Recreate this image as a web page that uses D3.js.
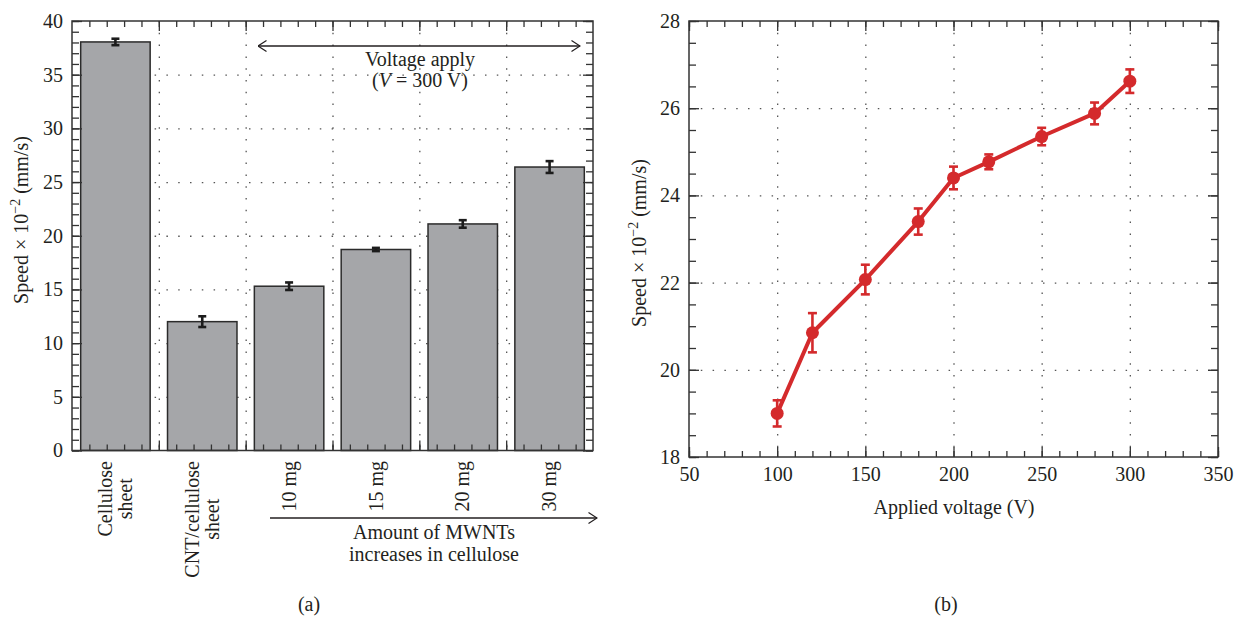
<!DOCTYPE html>
<html><head><meta charset="utf-8">
<script src="https://cdn.jsdelivr.net/npm/d3@7"></script>
<style>
body{margin:0;background:#fff;}
svg text{font-family:"Liberation Serif","Times New Roman",serif;fill:#231f20;font-size:20px;}
</style></head><body>
<svg id="chart" width="1236" height="622"></svg>
<script>
// ---------- data ----------
const barLabels = [["Cellulose","sheet"],["CNT/cellulose","sheet"],["10 mg"],["15 mg"],["20 mg"],["30 mg"]];
const barValues = [38.05, 12.0, 15.3, 18.72, 21.1, 26.4];
const barErrors = [0.3, 0.5, 0.35, 0.15, 0.35, 0.55];
const barYTicks = [0, 5, 10, 15, 20, 25, 30, 35, 40];

const voltages = [100, 120, 150, 180, 200, 220, 250, 280, 300];
const speeds = [19.0, 20.85, 22.07, 23.4, 24.4, 24.77, 25.35, 25.88, 26.62];
const speedErrors = [0.3, 0.45, 0.34, 0.3, 0.26, 0.17, 0.2, 0.25, 0.27];
const voltageTicks = [50, 100, 150, 200, 250, 300, 350];
const speedTicks = [18, 20, 22, 24, 26, 28];

// ---------- setup ----------
const svg = d3.select("#chart");
const INK = "#231f20", FRAME = "#333", GRID = "#555", RED = "#d42a2c";

svg.append("defs").append("marker")
  .attr("id", "arr").attr("viewBox", "0 0 10 12").attr("refX", 9.5).attr("refY", 6)
  .attr("markerWidth", 10).attr("markerHeight", 12).attr("markerUnits", "userSpaceOnUse")
  .attr("orient", "auto-start-reverse")
  .append("path").attr("d", "M1,0.5 L9.5,6 L1,11.5").attr("fill", "none")
  .attr("stroke", INK).attr("stroke-width", 1.2);

function styleAxis(a) {
  a.select(".domain").remove();
  a.selectAll("line").attr("stroke", FRAME).attr("stroke-width", 1.3);
  return a;
}
function grid(x, y, xg, yg) {
  const [x0, x1] = x.range(), [y1, y0] = y.range();
  const gx = svg.append("g").attr("transform", `translate(0,${y0})`)
    .call(d3.axisBottom(x).tickValues(xg).tickSize(y1 - y0).tickFormat(""));
  const gy = svg.append("g").attr("transform", `translate(${x0},0)`)
    .call(d3.axisRight(y).tickValues(yg).tickSize(x1 - x0).tickFormat(""));
  [gx, gy].forEach(g => {
    g.select(".domain").remove();
    g.selectAll("line").attr("stroke", GRID).attr("stroke-width", 1.3).attr("stroke-dasharray", "1.5,10.3");
  });
}
function frame(x, y, xMaj, xMin, yMaj, yMin) {
  const [x0, x1] = x.range(), [y1, y0] = y.range();
  const add = (gen, tr) => styleAxis(svg.append("g").attr("transform", tr).call(gen));
  add(d3.axisTop(x).tickValues(xMin).tickSize(6).tickFormat(""), `translate(0,${y1})`);
  add(d3.axisTop(x).tickValues(xMaj).tickSize(10).tickFormat(""), `translate(0,${y1})`);
  add(d3.axisBottom(x).tickValues(xMin).tickSize(6).tickFormat(""), `translate(0,${y0})`);
  add(d3.axisBottom(x).tickValues(xMaj).tickSize(10).tickFormat(""), `translate(0,${y0})`);
  add(d3.axisRight(y).tickValues(yMin).tickSize(7).tickFormat(""), `translate(${x0},0)`);
  add(d3.axisRight(y).tickValues(yMaj).tickSize(10).tickFormat(""), `translate(${x0},0)`);
  add(d3.axisLeft(y).tickValues(yMin).tickSize(7).tickFormat(""), `translate(${x1},0)`);
  add(d3.axisLeft(y).tickValues(yMaj).tickSize(10).tickFormat(""), `translate(${x1},0)`);
  svg.append("rect").attr("x", x0).attr("y", y0).attr("width", x1 - x0).attr("height", y1 - y0)
    .attr("fill", "none").attr("stroke", FRAME).attr("stroke-width", 1.5);
}
function yLabels(y, ticks, xPos) {
  const a = svg.append("g").attr("transform", `translate(${xPos},0)`)
    .call(d3.axisLeft(y).tickValues(ticks).tickSize(0).tickPadding(0));
  a.select(".domain").remove();
  a.selectAll("text").attr("font-size", 20).attr("fill", INK).attr("font-family", "Liberation Serif");
}
function yTitle(xPos, yPos) {
  const t = svg.append("text").attr("transform", `translate(${xPos},${yPos}) rotate(-90)`)
    .attr("text-anchor", "middle");
  t.append("tspan").text("Speed × 10");
  t.append("tspan").attr("dy", -8).attr("font-size", 14).text("−2");
  t.append("tspan").attr("dy", 8).text(" (mm/s)");
}

// ---------- panel (a): bars ----------
const xA = d3.scaleLinear().domain([0.5, 6.5]).range([72, 593]);
const yA = d3.scaleLinear().domain([0, 40]).range([450.5, 21]);
const bw = 0.8;

grid(xA, yA, [1.5, 2.5, 3.5, 4.5, 5.5], [5, 10, 15, 20, 25, 30, 35]);

svg.append("g").selectAll("rect").data(barValues).join("rect")
  .attr("x", (d, i) => xA(i + 1 - bw / 2))
  .attr("width", (d, i) => xA(i + 1 + bw / 2) - xA(i + 1 - bw / 2))
  .attr("y", d => yA(d)).attr("height", d => yA(0) - yA(d))
  .attr("fill", "#a5a6a9").attr("stroke", "#2b2b2b").attr("stroke-width", 1.5);

const eA = svg.append("g").attr("stroke", "#1c1c1c").attr("stroke-width", 2.6);
barValues.forEach((v, i) => {
  const cx = xA(i + 1), e = barErrors[i];
  eA.append("line").attr("x1", cx).attr("x2", cx).attr("y1", yA(v - e)).attr("y2", yA(v + e));
  [v - e, v + e].forEach(b => eA.append("line").attr("x1", cx - 4).attr("x2", cx + 4).attr("y1", yA(b)).attr("y2", yA(b)));
});

const xMinorA = d3.range(0, 30).map(k => 0.7 + k * 0.2).filter(v => v < 6.45);
frame(xA, yA, [1.5, 2.5, 3.5, 4.5, 5.5], xMinorA, barYTicks, d3.range(0, 41));
yLabels(yA, barYTicks, 63);
yTitle(28, 220);

// category labels (rotated)
barLabels.forEach((lines, i) => {
  const g = svg.append("g").attr("transform", `translate(${xA(i + 1)},461) rotate(-90)`);
  const ts = lines.map((ln, k) => g.append("text")
    .attr("y", (k - (lines.length - 1) / 2) * 19.5).attr("dy", "0.33em")
    .attr("text-anchor", "middle").text(ln));
  const L = d3.max(ts, t => t.node().getComputedTextLength());
  ts.forEach(t => t.attr("x", -L / 2));
});

// annotations
svg.append("line").attr("x1", 258).attr("x2", 580).attr("y1", 46).attr("y2", 46)
  .attr("stroke", INK).attr("stroke-width", 1.3)
  .attr("marker-start", "url(#arr)").attr("marker-end", "url(#arr)");
svg.append("text").attr("x", 420).attr("y", 66).attr("text-anchor", "middle").text("Voltage apply");
const vt = svg.append("text").attr("x", 420).attr("y", 87).attr("text-anchor", "middle");
vt.append("tspan").text("(");
vt.append("tspan").attr("font-style", "italic").text("V");
vt.append("tspan").text(" = 300 V)");

svg.append("line").attr("x1", 270).attr("x2", 597).attr("y1", 518).attr("y2", 518)
  .attr("stroke", INK).attr("stroke-width", 1.3).attr("marker-end", "url(#arr)");
svg.append("text").attr("x", 434).attr("y", 539).attr("text-anchor", "middle").attr("font-size", 19).text("Amount of MWNTs");
svg.append("text").attr("x", 434).attr("y", 561).attr("text-anchor", "middle").attr("font-size", 19).text("increases in cellulose");
svg.append("text").attr("x", 309).attr("y", 611).attr("text-anchor", "middle").text("(a)");

// ---------- panel (b): line ----------
const xB = d3.scaleLinear().domain([50, 350]).range([689, 1218]);
const yB = d3.scaleLinear().domain([18, 28]).range([457, 21]);

grid(xB, yB, [100, 150, 200, 250, 300], [20, 22, 24, 26]);
frame(xB, yB, voltageTicks, d3.range(50, 351, 10), speedTicks, d3.range(18, 28.01, 0.5));

const pts = voltages.map((v, i) => ({ v, s: speeds[i], e: speedErrors[i] }));
const eB = svg.append("g").attr("stroke", RED).attr("stroke-width", 2.6);
pts.forEach(p => {
  const cx = xB(p.v);
  eB.append("line").attr("x1", cx).attr("x2", cx).attr("y1", yB(p.s - p.e)).attr("y2", yB(p.s + p.e));
  [p.s - p.e, p.s + p.e].forEach(b => eB.append("line").attr("x1", cx - 4.5).attr("x2", cx + 4.5).attr("y1", yB(b)).attr("y2", yB(b)));
});
svg.append("path").datum(pts)
  .attr("d", d3.line().x(d => xB(d.v)).y(d => yB(d.s)))
  .attr("fill", "none").attr("stroke", RED).attr("stroke-width", 4).attr("stroke-linejoin", "round");
svg.append("g").selectAll("circle").data(pts).join("circle")
  .attr("cx", d => xB(d.v)).attr("cy", d => yB(d.s)).attr("r", 6.5).attr("fill", RED);

yLabels(yB, speedTicks, 680);
const xl = svg.append("g").attr("transform", `translate(0,467)`)
  .call(d3.axisBottom(xB).tickValues(voltageTicks).tickSize(0).tickPadding(0));
xl.select(".domain").remove();
xl.selectAll("text").attr("font-size", 20).attr("fill", INK).attr("font-family", "Liberation Serif");
yTitle(646, 243);
svg.append("text").attr("x", 954).attr("y", 514).attr("text-anchor", "middle").text("Applied voltage (V)");
svg.append("text").attr("x", 946).attr("y", 611).attr("text-anchor", "middle").text("(b)");
</script>
</body></html>
